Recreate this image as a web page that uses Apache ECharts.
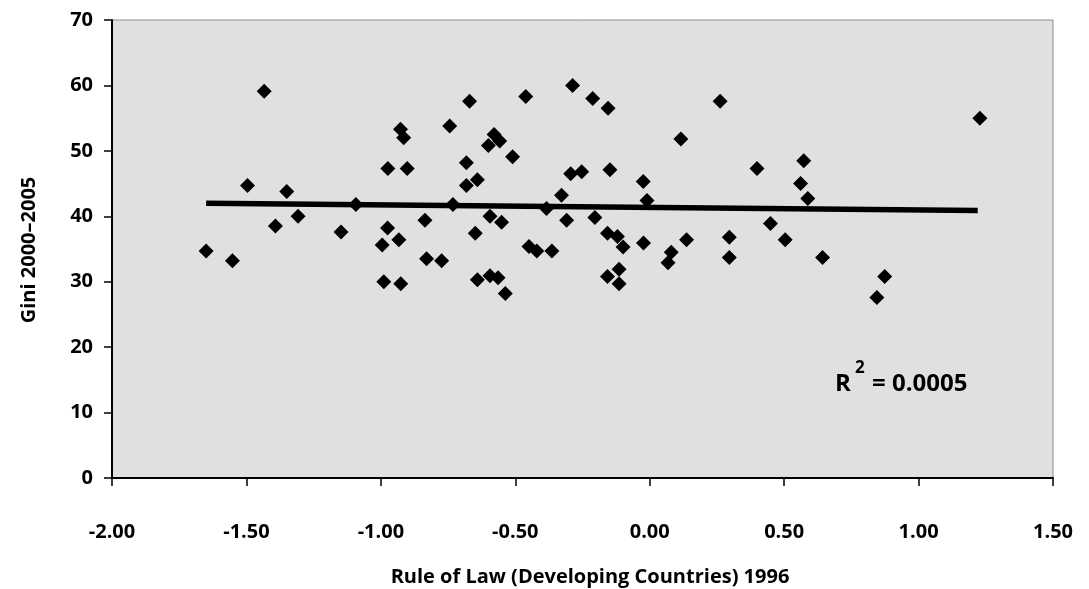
<!DOCTYPE html>
<html><head><meta charset="utf-8">
<script src="https://cdn.jsdelivr.net/npm/echarts@6/dist/echarts.min.js"></script>
<style>html,body{margin:0;padding:0;background:#fff}#c{width:1089px;height:589px}</style>
</head><body><div id="c"></div>
<script>
// Rule of Law 1996 (x) and Gini 2000-2005 (y) for developing countries
const ruleOfLaw = [-1.650,-1.552,-1.496,-1.434,-1.392,-1.350,-1.308,-1.148,-1.093,-0.995,
  -0.989,-0.975,-0.974,-0.933,-0.927,-0.926,-0.915,-0.902,-0.836,-0.830,
  -0.774,-0.744,-0.732,-0.682,-0.682,-0.670,-0.649,-0.641,-0.641,-0.600,
  -0.594,-0.594,-0.579,-0.564,-0.558,-0.551,-0.537,-0.510,-0.461,-0.449,
  -0.420,-0.384,-0.364,-0.328,-0.309,-0.294,-0.287,-0.253,-0.212,-0.204,
  -0.157,-0.157,-0.155,-0.148,-0.120,-0.114,-0.114,-0.099,-0.024,-0.023,
  -0.010,0.068,0.080,0.116,0.137,0.262,0.296,0.296,0.399,0.449,
  0.504,0.561,0.573,0.588,0.643,0.845,0.874,1.228];
const gini = [34.7,33.2,44.7,59.1,38.5,43.8,40.0,37.6,41.8,35.6,
  30.0,38.2,47.3,36.4,53.3,29.7,52.0,47.3,39.4,33.5,
  33.2,53.8,41.8,48.2,44.7,57.6,37.4,45.6,30.3,50.8,
  40.0,30.9,52.5,30.6,51.5,39.1,28.2,49.1,58.3,35.4,
  34.7,41.2,34.7,43.2,39.4,46.5,60.0,46.8,58.0,39.8,
  37.4,30.8,56.5,47.1,36.9,31.9,29.7,35.3,45.3,35.9,
  42.4,32.9,34.5,51.8,36.4,57.6,36.8,33.7,47.3,38.9,
  36.4,45.0,48.5,42.7,33.7,27.6,30.8,55.0];
// linear trend line end points
const trendX = [-1.65, 1.22];
const trendY = [42.0, 40.9];
const rSquaredText = '0.0005';
const xTitle = 'Rule of Law (Developing Countries) 1996';
const yTitle = 'Gini 2000\u20132005';

const FONT = 'Open Sans';
const chart = echarts.init(document.getElementById('c'), null, {renderer:'canvas'});
chart.setOption({
  animation:false,
  backgroundColor:'#ffffff',
  grid:{left:112,right:36,top:20,bottom:111,show:true,backgroundColor:'#e0e0e0',borderColor:'#8c8c8c',borderWidth:1},
  xAxis:{type:'value',min:-2,max:1.5,interval:0.5,
    axisLine:{show:true,onZero:false,lineStyle:{color:'#000',width:2}},
    axisTick:{show:true,length:8,lineStyle:{color:'#000',width:1.5}},
    splitLine:{show:false},
    axisLabel:{margin:44,color:'#000',fontFamily:FONT,fontWeight:'bold',fontSize:20,formatter:v=>v.toFixed(2)}},
  yAxis:{type:'value',min:0,max:70,interval:10,
    axisLine:{show:true,onZero:false,lineStyle:{color:'#000',width:2}},
    axisTick:{show:true,length:8,lineStyle:{color:'#000',width:1.5}},
    splitLine:{show:false},
    axisLabel:{margin:19,color:'#000',fontFamily:FONT,fontWeight:'bold',fontSize:20}},
  series:[
    {type:'line',data:trendX.map((x,i)=>[x,trendY[i]]),symbol:'none',
      lineStyle:{color:'#000',width:5.5},z:2},
    {type:'scatter',data:ruleOfLaw.map((x,i)=>[x,gini[i]]),symbol:'diamond',symbolSize:15,
      itemStyle:{color:'#000',opacity:1},z:3}
  ],
  graphic:[
    {type:'text',left:835,top:372,style:{text:'R',font:'bold 24px "Open Sans"',fill:'#000'}},
    {type:'text',left:855,top:360,style:{text:'2',font:'bold 17px "Open Sans"',fill:'#000'}},
    {type:'text',left:872,top:372,style:{text:'= '+rSquaredText,font:'bold 24px "Open Sans"',fill:'#000'}},
    {type:'text',x:590,y:577,style:{text:xTitle,font:'bold 20px "Open Sans"',fill:'#000',align:'center',verticalAlign:'middle'}},
    {type:'text',x:29,y:250,rotation:Math.PI/2,style:{text:yTitle,font:'bold 20px "Open Sans"',fill:'#000',align:'center',verticalAlign:'middle'}}
  ]
});
</script></body></html>
